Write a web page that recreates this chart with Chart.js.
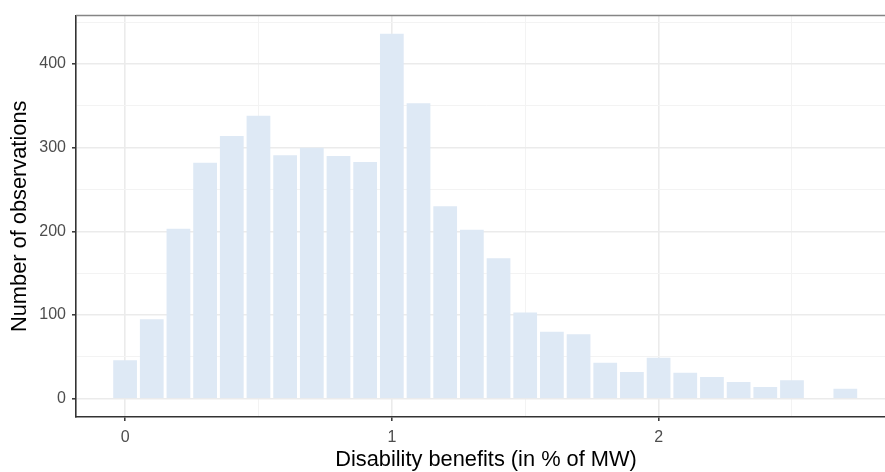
<!DOCTYPE html>
<html>
<head>
<meta charset="utf-8">
<script src="https://cdn.jsdelivr.net/npm/chart.js@4/dist/chart.umd.min.js"></script>
<style>
  html, body { margin: 0; padding: 0; background: #ffffff; overflow: hidden; }
  #wrap { width: 897px; height: 472px; }
</style>
</head>
<body>
<div id="wrap"><canvas id="c" width="897" height="472"></canvas></div>
<script>
// Bin centres (in % of MW) and counts per bin
const binCenters = [0.0, 0.1, 0.2, 0.3, 0.4, 0.5, 0.6, 0.7, 0.8, 0.9, 1.0, 1.1, 1.2, 1.3,
                    1.4, 1.5, 1.6, 1.7, 1.8, 1.9, 2.0, 2.1, 2.2, 2.3, 2.4, 2.5, 2.6, 2.7];
const counts = [46, 95, 203, 282, 314, 338, 291, 300, 290, 283, 436, 353, 230, 202,
                168, 103, 80, 77, 43, 32, 49, 31, 26, 20, 14, 22, 0, 12];

// Axis ticks
const xMajorTicks = [0, 1, 2];
const xMinorTicks = [0.5, 1.5, 2.5];
const yMajorTicks = [0, 100, 200, 300, 400];
const yMinorTicks = [50, 150, 250, 350, 450];

const xTitle = 'Disability benefits (in % of MW)';
const yTitle = 'Number of observations';

const points = binCenters.map((x, i) => ({ x: x, y: counts[i] }));

function setTicks(major, minor) {
  return function (scale) {
    scale.ticks = major.concat(minor).sort((a, b) => a - b).map(v => ({ value: v }));
  };
}
function isMajor(list, v) { return list.some(m => Math.abs(m - v) < 1e-9); }

const topBorder = {
  id: 'topBorder',
  afterDraw(chart) {
    const { ctx, chartArea } = chart;
    ctx.save();
    ctx.strokeStyle = '#858585';
    ctx.lineWidth = 1.5;
    ctx.beginPath();
    ctx.moveTo(chartArea.left, chartArea.top);
    ctx.lineTo(chartArea.right, chartArea.top);
    ctx.stroke();
    ctx.restore();
  }
};

const tickFont = { family: "'Liberation Sans', Arial, sans-serif", size: 16 };
const titleFont = { family: "'Liberation Sans', Arial, sans-serif", size: 21.8, lineHeight: 1 };

new Chart(document.getElementById('c'), {
  type: 'bar',
  data: {
    datasets: [{
      data: points,
      backgroundColor: 'rgb(222,233,245)',
      borderWidth: 0,
      barPercentage: 0.89,
      categoryPercentage: 1.0
    }]
  },
  options: {
    responsive: false,
    animation: false,
    layout: { padding: { left: 0, top: 12, right: 1, bottom: 0 } },
    plugins: { legend: { display: false }, tooltip: { enabled: false } },
    scales: {
      x: {
        type: 'linear',
        min: -0.184,
        max: 2.89,
        offset: false,
        afterBuildTicks: setTicks(xMajorTicks, xMinorTicks),
        afterFit(scale) { scale.height = 55; },
        ticks: {
          autoSkip: false,
          maxRotation: 0,
          padding: 7,
          color: '#4D4D4D',
          font: tickFont,
          callback: (v) => isMajor(xMajorTicks, v) ? String(v) : ''
        },
        grid: {
          offset: false,
          drawTicks: true,
          tickLength: 4,
          color: (c) => isMajor(xMajorTicks, c.tick.value) ? '#EBEBEB' : '#F3F3F3',
          lineWidth: (c) => isMajor(xMajorTicks, c.tick.value) ? 1.6 : 1,
          tickColor: (c) => isMajor(xMajorTicks, c.tick.value) ? '#333333' : 'rgba(0,0,0,0)',
          tickWidth: 1.5
        },
        border: { display: true, color: '#333333', width: 1.6 },
        title: {
          display: true,
          text: xTitle,
          color: '#000000',
          font: titleFont,
          padding: { top: 0, bottom: 1.2 }
        }
      },
      y: {
        type: 'linear',
        min: -21.8,
        max: 457.8,
        afterBuildTicks: setTicks(yMajorTicks, yMinorTicks),
        afterFit(scale) { scale.width = 76; },
        ticks: {
          autoSkip: false,
          padding: 6,
          color: '#4D4D4D',
          font: tickFont,
          callback: (v) => isMajor(yMajorTicks, v) ? String(v) : ''
        },
        grid: {
          drawTicks: true,
          tickLength: 4,
          color: (c) => isMajor(yMajorTicks, c.tick.value) ? '#EBEBEB' : '#F3F3F3',
          lineWidth: (c) => isMajor(yMajorTicks, c.tick.value) ? 1.6 : 1,
          tickColor: (c) => isMajor(yMajorTicks, c.tick.value) ? '#333333' : 'rgba(0,0,0,0)',
          tickWidth: 1.5
        },
        border: { display: true, color: '#333333', width: 1.6 },
        title: {
          display: true,
          text: yTitle,
          color: '#000000',
          font: titleFont,
          padding: { top: 9, bottom: 0 }
        }
      }
    }
  },
  plugins: [topBorder]
});
</script>
</body>
</html>
